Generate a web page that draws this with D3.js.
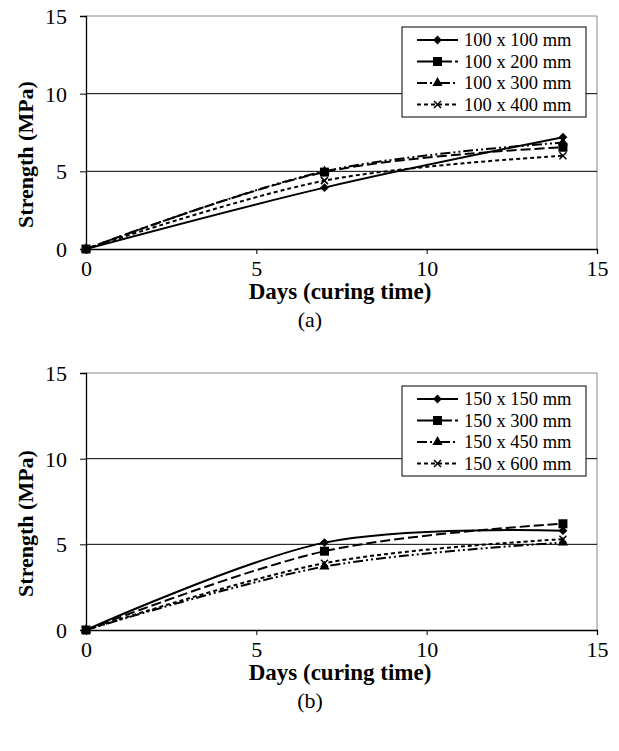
<!DOCTYPE html>
<html><head><meta charset="utf-8">
<script src="https://cdn.jsdelivr.net/npm/d3@7"></script>
<style>body{margin:0;background:#fff}svg{display:block}text{font-family:"Liberation Serif","Times New Roman",serif;fill:#000}</style>
</head><body>
<svg id="c" width="619" height="751"></svg>
<script>
const days = [0, 7, 14];
const xTicks = [0, 5, 10, 15];
const yTicks = [0, 5, 10, 15];
const namesA = ["100 x 100 mm", "100 x 200 mm", "100 x 300 mm", "100 x 400 mm"];
const namesB = ["150 x 150 mm", "150 x 300 mm", "150 x 450 mm", "150 x 600 mm"];
const a1 = [0, 3.95, 7.2];
const a2 = [0, 4.95, 6.55];
const a3 = [0, 5.0, 6.85];
const a4 = [0, 4.4, 6.0];
const b1 = [0, 5.1, 5.8];
const b2 = [0, 4.6, 6.2];
const b3 = [0, 3.7, 5.1];
const b4 = [0, 3.9, 5.3];

const styles = [
  {dash: null, marker: "diamond"},
  {dash: "10,4", marker: "square"},
  {dash: "10,3,2,3,2,3", marker: "triangle"},
  {dash: "4,3", marker: "x"}
];
const svg = d3.select("#c");

function marker(g, type, x, y) {
  if (type === "diamond") g.append("path").attr("d", d3.symbol(d3.symbolDiamond2, 50)()).attr("transform", `translate(${x},${y})`).attr("fill", "#000");
  else if (type === "square") g.append("rect").attr("x", x - 4.5).attr("y", y - 4.5).attr("width", 9).attr("height", 9).attr("fill", "#000");
  else if (type === "triangle") g.append("path").attr("d", d3.symbol(d3.symbolTriangle, 45)()).attr("transform", `translate(${x},${y})`).attr("fill", "#000");
  else g.append("path").attr("d", `M${x-3.5},${y-3.5}L${x+3.5},${y+3.5}M${x-3.5},${y+3.5}L${x+3.5},${y-3.5}`).attr("stroke", "#000").attr("stroke-width", 1.5);
}

function chart(cfg) {
  const {top, bottom, series, names, label, legTop} = cfg;
  const left = 86, right = 597;
  const x = d3.scaleLinear().domain([0, 15]).range([left, right]);
  const y = d3.scaleLinear().domain([0, 15]).range([bottom, top]);
  const g = svg.append("g");
  g.append("path").attr("d", `M${left},${top}H${right}V${bottom}`).attr("fill", "none").attr("stroke", "#888").attr("stroke-width", 1);
  g.selectAll(".grid").data([5, 10]).join("line").attr("x1", left).attr("x2", right)
    .attr("y1", d => y(d)).attr("y2", d => y(d)).attr("stroke", "#000").attr("stroke-width", 1);
  const xa = g.append("g").attr("transform", `translate(0,${bottom})`)
    .call(d3.axisBottom(x).tickValues(xTicks).tickSize(5).tickPadding(6).tickFormat(d3.format("d")));
  const ya = g.append("g").attr("transform", `translate(${left},0)`)
    .call(d3.axisLeft(y).tickValues(yTicks).tickSize(6).tickPadding(13).tickFormat(d3.format("d")));
  [xa, ya].forEach(a => {
    a.select(".domain").attr("stroke", "#000").attr("stroke-width", 1.3);
    a.selectAll(".tick line").attr("stroke", "#000");
    a.selectAll("text").style("font-size", "22px").attr("font-family", "Liberation Serif");
  });
  ya.selectAll("text").attr("dy", "0.34em");
  const line = d3.line().x((d, i) => x(days[i])).y(d => y(d)).curve(d3.curveCatmullRom.alpha(0));
  series.forEach((s, k) => {
    g.append("path").datum(s).attr("d", line).attr("fill", "none").attr("stroke", "#000")
      .attr("stroke-width", 2).attr("stroke-dasharray", styles[k].dash);
  });
  series.forEach((s, k) => s.forEach((v, i) => marker(g, styles[k].marker, x(days[i]), y(v))));
  g.append("text").attr("x", 340).attr("y", bottom + 50).attr("text-anchor", "middle")
    .style("font-size", "23px").style("font-weight", "bold").text("Days (curing time)");
  g.append("text").attr("transform", `translate(33,${(top + bottom) / 2 + 22}) rotate(-90)`).attr("text-anchor", "middle")
    .style("font-size", "22px").style("font-weight", "bold").text("Strength (MPa)");
  g.append("text").attr("x", 310).attr("y", bottom + 78).attr("text-anchor", "middle")
    .style("font-size", "22px").text(label);
  const lg = g.append("g");
  lg.append("rect").attr("x", 402).attr("y", legTop).attr("width", 184).attr("height", 90)
    .attr("fill", "#fff").attr("stroke", "#000").attr("stroke-width", 1);
  names.forEach((n, k) => {
    const cy = legTop + 13 + k * 21.5;
    lg.append("line").attr("x1", 417).attr("x2", 458).attr("y1", cy).attr("y2", cy)
      .attr("stroke", "#000").attr("stroke-width", 2).attr("stroke-dasharray", styles[k].dash ? (k === 1 ? "16,3" : styles[k].dash) : null);
    marker(lg, styles[k].marker, 437.5, cy);
    lg.append("text").attr("x", 464).attr("y", cy + 6).style("font-size", "18.5px").text(n);
  });
}

chart({top: 16, bottom: 249, series: [a1, a2, a3, a4], names: namesA, label: "(a)", legTop: 27});
chart({top: 373, bottom: 630, series: [b1, b2, b3, b4], names: namesB, label: "(b)", legTop: 386});
</script>
</body></html>
